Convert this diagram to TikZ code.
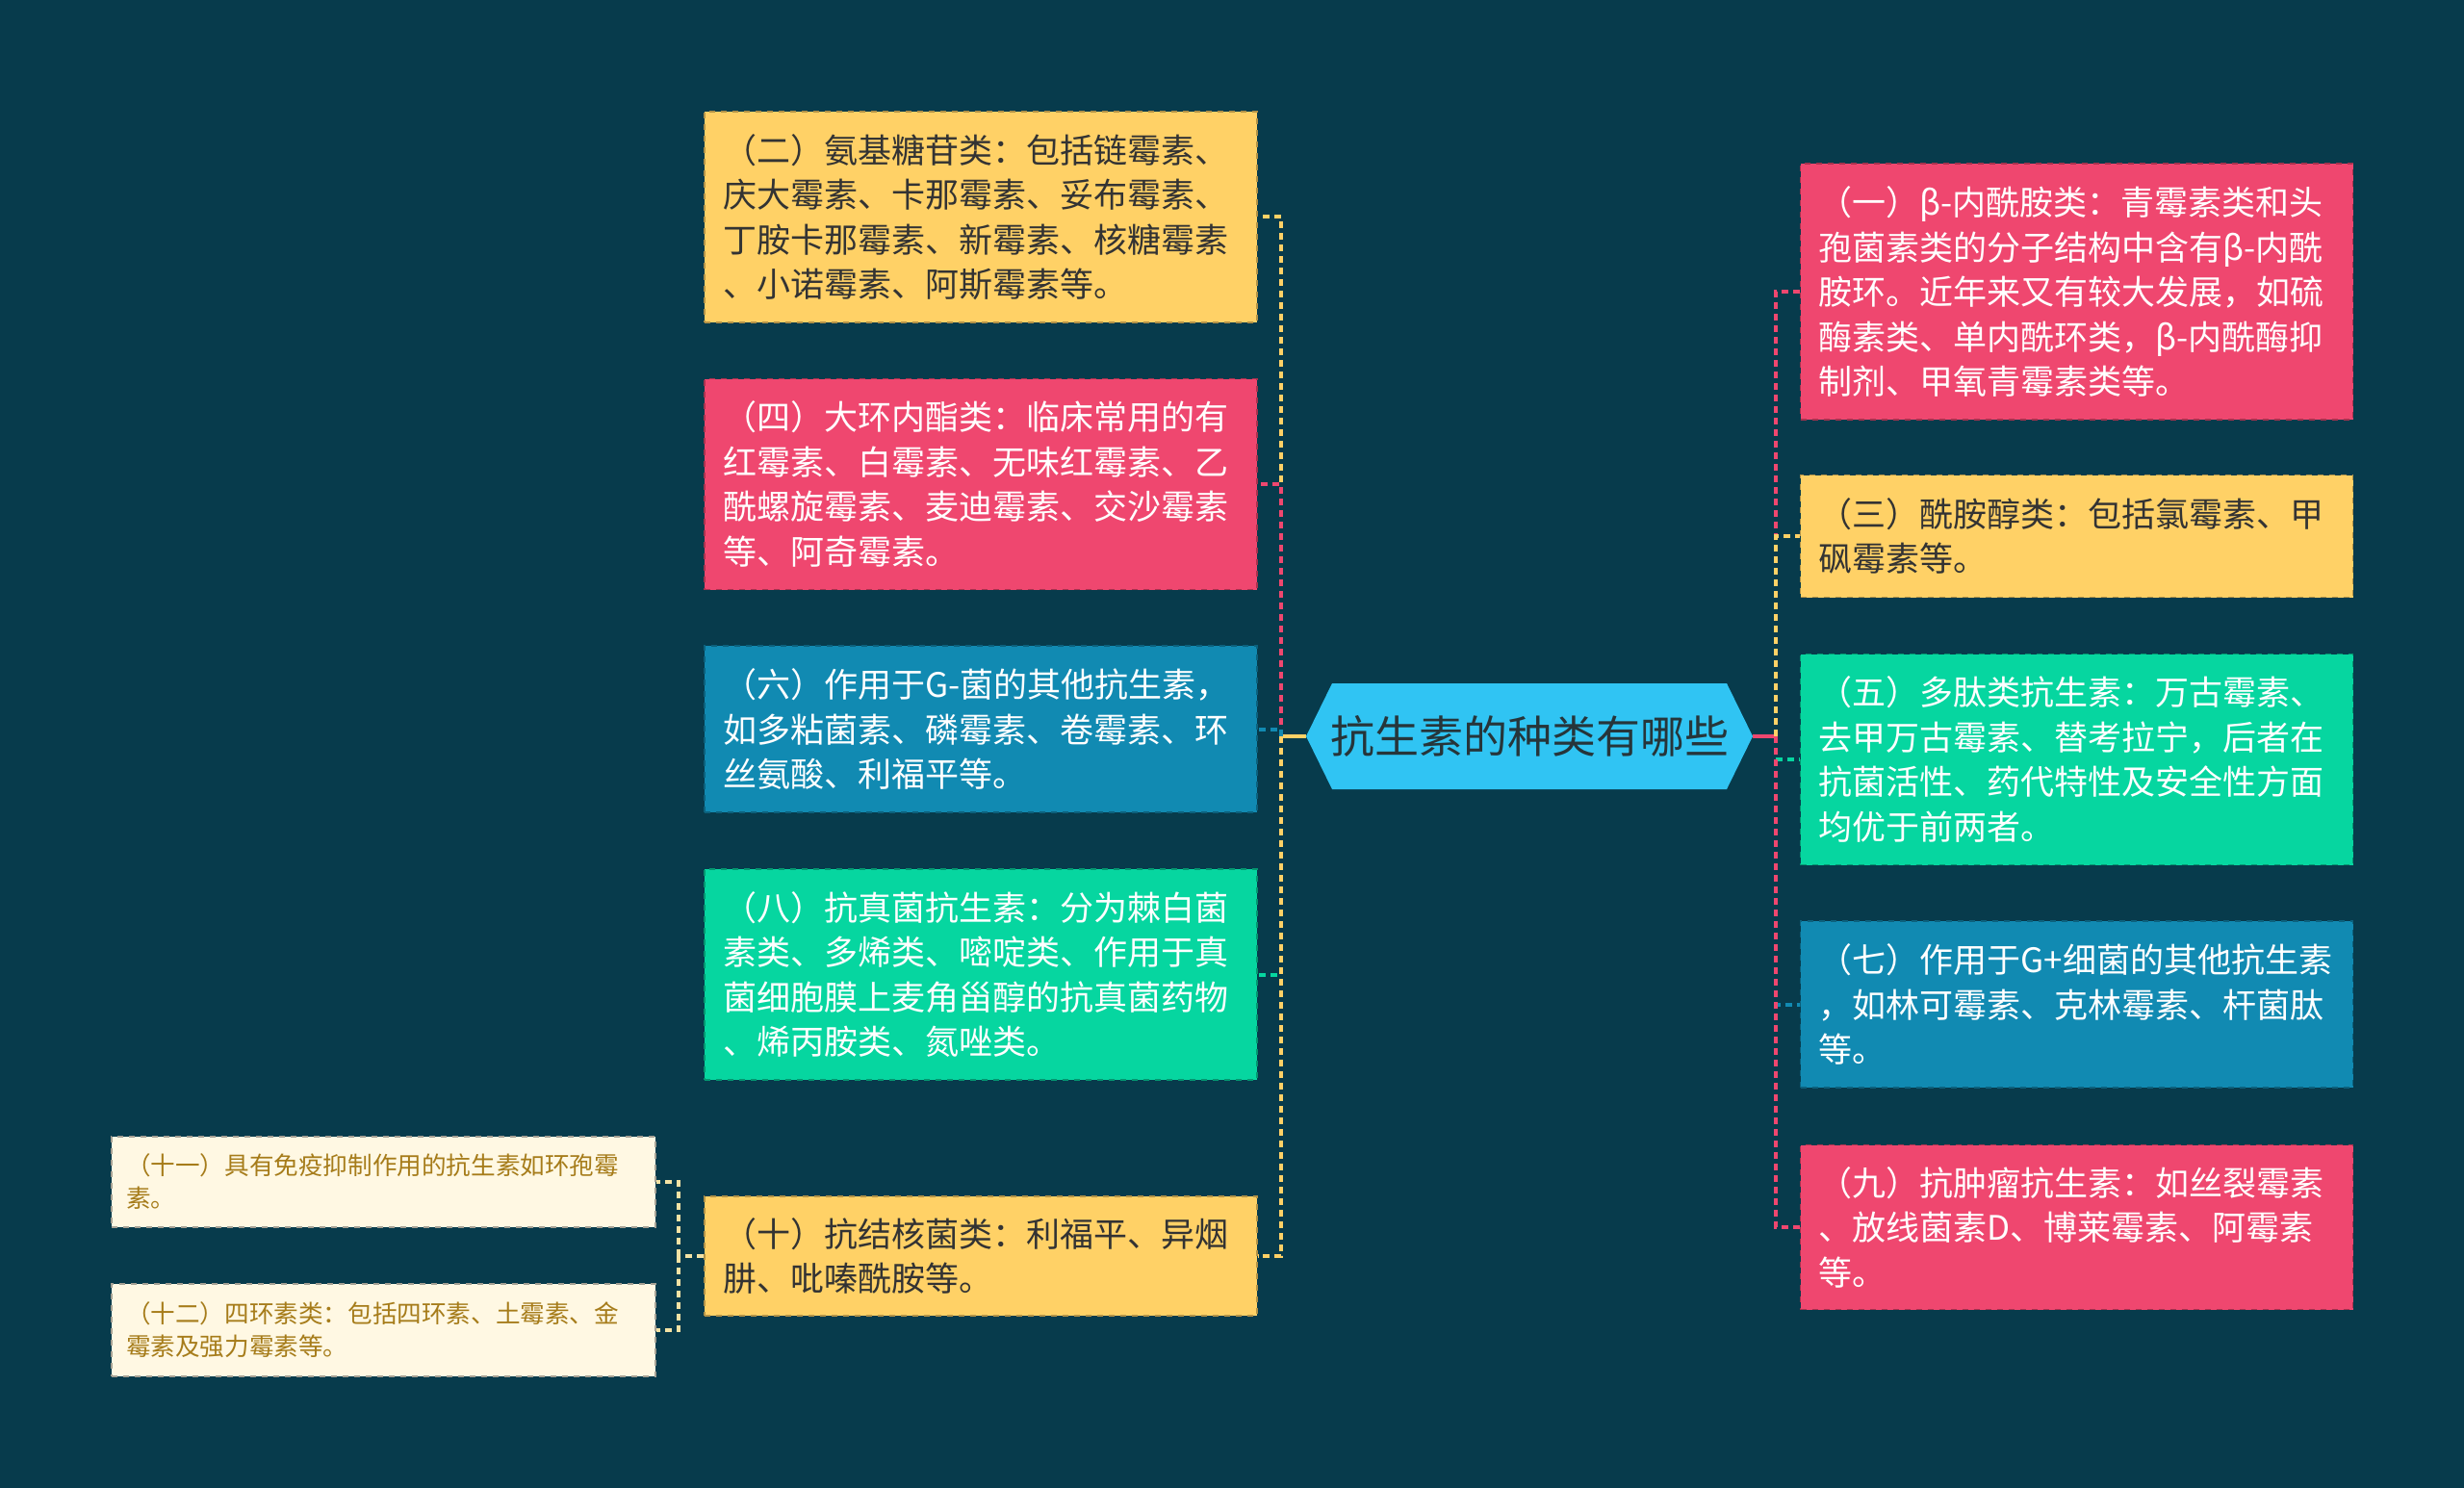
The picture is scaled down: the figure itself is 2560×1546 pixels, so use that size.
\documentclass[tikz,border=0pt]{standalone}
\usepackage{fontspec}
\newfontfamily\cjk{Noto Sans CJK SC}
\usetikzlibrary{positioning}

\definecolor{bgc}{HTML}{073B4C}
\definecolor{yelc}{HTML}{FFD166}
\definecolor{pinkc}{HTML}{EF476F}
\definecolor{bluec}{HTML}{118AB2}
\definecolor{greenc}{HTML}{06D6A0}
\definecolor{rootc}{HTML}{30C4F3}
\definecolor{creamc}{HTML}{FFF8E3}
\definecolor{brownc}{HTML}{A67C1A}
\definecolor{inkc}{HTML}{333333}
\definecolor{palec}{HTML}{F3E2A4}

\tikzset{
  box/.style={draw, dashed, line width=0.6pt, inner xsep=9.5pt, inner ysep=0pt,
    text width=268pt, align=left, anchor=center,
    font={\cjk\fontsize{17.5pt}{23.25pt}\selectfont}},
  ybox/.style={box, fill=yelc, draw=yelc!70!black, text=inkc},
  pbox/.style={box, fill=pinkc, draw=pinkc!70!black, text=white},
  bbox/.style={box, fill=bluec, draw=bluec!70!black, text=white},
  gbox/.style={box, fill=greenc, draw=greenc!70!black, text=white},
  cbox/.style={draw=creamc!65!black, dashed, line width=0.6pt, fill=creamc, text=brownc,
    inner xsep=7.5pt, inner ysep=0pt, text width=267.5pt, align=left, anchor=center,
    font={\cjk\fontsize{12.8pt}{17pt}\selectfont}},
  rootbox/.style={minimum width=232pt, minimum height=55pt, inner sep=0pt,
    text=inkc!70!bgc, font={\cjk\fontsize{23pt}{28pt}\selectfont},
    path picture={\fill[rootc] (path picture bounding box.west)
      -- ([xshift=13.5pt]path picture bounding box.north west)
      -- ([xshift=-13.5pt]path picture bounding box.north east)
      -- (path picture bounding box.east)
      -- ([xshift=-13.5pt]path picture bounding box.south east)
      -- ([xshift=13.5pt]path picture bounding box.south west) -- cycle;}},
  link/.style={line width=2pt, dash pattern=on 3.5pt off 2.5pt},
  stub/.style={line width=2pt}
}

\begin{document}
\begin{tikzpicture}[x=0.5pt, y=-0.5pt]
    \useasboundingbox (0,0) rectangle (2560,1546);
    \fill[bgc] (0,0) rectangle (2560,1546);

    % centre
    \node[rootbox] (root) at (1589,765) {抗生素的种类有哪些};

    % left side
    \node[ybox, minimum height=109.5pt] (b2) at (1019,225.5) {（二）氨基糖苷类：包括链霉素、\\庆大霉素、卡那霉素、妥布霉素、\\丁胺卡那霉素、新霉素、核糖霉素\\、小诺霉素、阿斯霉素等。};
    \node[pbox, minimum height=109.5pt] (b4) at (1019,503) {（四）大环内酯类：临床常用的有\\红霉素、白霉素、无味红霉素、乙\\酰螺旋霉素、麦迪霉素、交沙霉素\\等、阿奇霉素。};
    \node[bbox, minimum height=86.5pt] (b6) at (1019,757.5) {（六）作用于G-菌的其他抗生素，\\如多粘菌素、磷霉素、卷霉素、环\\丝氨酸、利福平等。};
    \node[gbox, minimum height=109.5pt] (b8) at (1019,1012.5) {（八）抗真菌抗生素：分为棘白菌\\素类、多烯类、嘧啶类、作用于真\\菌细胞膜上麦角甾醇的抗真菌药物\\、烯丙胺类、氮唑类。};
    \node[ybox, minimum height=62pt] (b10) at (1019,1305) {（十）抗结核菌类：利福平、异烟\\肼、吡嗪酰胺等。};
    \node[cbox, minimum height=47pt] (b11) at (398.5,1228) {（十一）具有免疫抑制作用的抗生素如环孢霉\\素。};
    \node[cbox, minimum height=48pt] (b12) at (398.5,1382) {（十二）四环素类：包括四环素、土霉素、金\\霉素及强力霉素等。};

    % right side
    \node[pbox, minimum height=133pt] (b1) at (2157.5,303) {（一）β-内酰胺类：青霉素类和头\\孢菌素类的分子结构中含有β-内酰\\胺环。近年来又有较大发展，如硫\\酶素类、单内酰环类，β-内酰酶抑\\制剂、甲氧青霉素类等。};
    \node[ybox, minimum height=63.5pt] (b3) at (2157.5,557) {（三）酰胺醇类：包括氯霉素、甲\\砜霉素等。};
    \node[gbox, minimum height=109.5pt] (b5) at (2157.5,789) {（五）多肽类抗生素：万古霉素、\\去甲万古霉素、替考拉宁，后者在\\抗菌活性、药代特性及安全性方面\\均优于前两者。};
    \node[bbox, minimum height=86.5pt] (b7) at (2157.5,1043.5) {（七）作用于G+细菌的其他抗生素\\，如林可霉素、克林霉素、杆菌肽\\等。};
    \node[pbox, minimum height=85.5pt] (b9) at (2157.5,1275) {（九）抗肿瘤抗生素：如丝裂霉素\\、放线菌素D、博莱霉素、阿霉素\\等。};

    % connectors
    \coordinate (lbus) at (1331,765);
    \coordinate (rbus) at (1845,765);
    \coordinate (tbus) at (705,1305);
    \draw[stub, yelc] (root.west) -- (lbus);
    \draw[link, yelc] (lbus) |- (b2.east);
    \draw[link, pinkc] (lbus) |- (b4.east);
    \draw[link, bluec] (lbus) |- (b6.east);
    \draw[link, greenc] (lbus) |- (b8.east);
    \draw[link, yelc] (lbus) |- (b10.east);
    \draw[stub, pinkc] (root.east) -- (rbus);
    \draw[link, pinkc] (rbus) |- (b1.west);
    \draw[link, yelc] (rbus) |- (b3.west);
    \draw[link, greenc] (rbus) |- (b5.west);
    \draw[link, bluec] (rbus) |- (b7.west);
    \draw[link, pinkc] (rbus) |- (b9.west);
    \draw[link, palec] (b10.west) -- (tbus);
    \draw[link, palec] (tbus) |- (b11.east);
    \draw[link, palec] (tbus) |- (b12.east);
\end{tikzpicture}
\end{document}
